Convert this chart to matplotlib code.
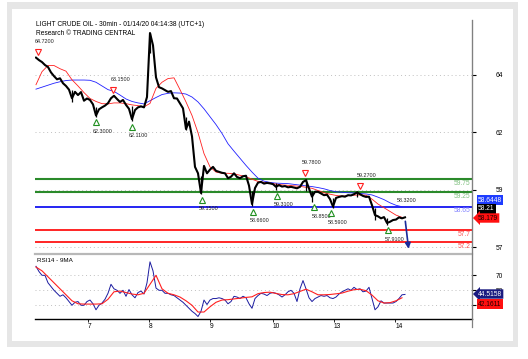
import numpy as np
import matplotlib
matplotlib.use("Agg")
import matplotlib.pyplot as plt
from matplotlib.patches import Rectangle
from matplotlib.lines import Line2D
from matplotlib.transforms import blended_transform_factory, offset_copy

plt.rcParams['font.family'] = ['Liberation Sans', 'DejaVu Sans']

# ---- data (one point ~ every 3 bars) ----
price = [64.70, 64.60, 64.52, 64.40, 64.32, 64.10, 63.95, 63.82, 63.86, 63.66,
         63.55, 63.40, 63.05, 63.31, 63.18, 63.30, 62.95, 63.04, 62.98, 62.80,
         62.35, 62.60, 62.68, 62.75, 62.85, 63.05, 63.15, 63.02, 62.90, 62.98,
         62.78, 62.62, 62.20, 62.57, 62.68, 62.72, 62.68, 63.10, 65.70, 65.20,
         63.90, 63.50, 63.45, 63.38, 63.31, 63.34, 63.05, 63.04, 62.84, 62.64,
         61.80, 62.10, 61.50, 60.26, 60.00, 59.20, 60.30, 60.00, 60.15, 60.26,
         60.10, 60.06, 60.02, 60.00, 59.80, 59.86, 60.00, 59.85, 59.80, 59.88,
         59.90, 59.50, 58.75, 59.40, 59.62, 59.65, 59.58, 59.61, 59.59, 59.56,
         59.45, 59.52, 59.46, 59.48, 59.43, 59.45, 59.42, 59.39, 59.45, 59.65,
         59.72, 59.38, 59.05, 59.25, 59.25, 59.18, 59.11, 59.13, 58.95, 58.65,
         59.00, 59.04, 59.07, 59.05, 59.11, 59.10, 59.15, 59.22, 59.15, 59.08,
         59.04, 59.05, 58.70, 58.30, 58.25, 58.17, 58.22, 57.98, 58.03, 58.10,
         58.12, 58.21, 58.17, 58.21]

# bar wicks (index, low, high) for the visible spikes
wick_idx = [12, 20, 32, 38, 50, 55, 72, 80, 90, 92, 99, 107, 113, 117]
wick_low = [62.90, 62.30, 62.11, 64.90, 61.76, 59.15, 58.66, 59.31, 59.30, 58.85, 58.59, 59.05, 58.10, 57.91]
wick_high = [63.40, 62.70, 62.75, 65.72, 62.30, 59.90, 59.30, 59.60, 59.78, 59.30, 59.00, 59.27, 58.60, 58.20]

# moving averages, one point every 2 price points
ma_red = [63.60, 64.13, 64.38, 64.38, 64.25, 64.15, 63.80, 63.55, 63.28, 63.04,
          62.92, 62.83, 62.82, 62.86, 62.86, 62.83, 62.78, 62.75, 62.70, 62.84,
          63.45, 63.70, 63.85, 63.88, 63.40, 62.90, 62.35, 61.65, 60.80, 60.26,
          60.05, 60.00, 60.00, 59.98, 59.92, 59.86, 59.76, 59.67, 59.63, 59.60,
          59.56, 59.53, 59.51, 59.49, 59.47, 59.43, 59.39, 59.30, 59.21, 59.15,
          59.10, 59.07, 59.09, 59.11, 59.12, 59.11, 58.95, 58.75, 58.60, 58.45,
          58.30, 58.21]
ma_blue = [63.42, 63.50, 63.58, 63.66, 63.72, 63.77, 63.79, 63.79, 63.79, 63.78,
           63.70, 63.55, 63.40, 63.33, 63.18, 63.02, 62.92, 62.86, 62.82, 62.95,
           63.08, 63.20, 63.25, 63.27, 63.26, 63.22, 63.10, 62.90, 62.62, 62.30,
           61.98, 61.62, 61.20, 60.90, 60.61, 60.32, 60.05, 59.80, 59.68, 59.63,
           59.60, 59.59, 59.58, 59.55, 59.52, 59.49, 59.46, 59.42, 59.37, 59.30,
           59.25, 59.23, 59.21, 59.20, 59.18, 59.16, 59.12, 59.03, 58.93, 58.80,
           58.70, 58.64]

rsi = [82, 75, 70, 70, 60, 55, 50, 46, 42, 44, 40, 35, 30, 34, 35, 30, 30, 35, 37, 32,
       24, 30, 33, 38, 46, 58, 52, 50, 46, 50, 42, 51, 44, 40, 47, 49, 45, 60, 88, 76,
       53, 50, 50, 46, 46, 44, 43, 40, 37, 34, 30, 26, 22, 19, 15, 22, 37, 31, 37, 39,
       39, 40, 39, 37, 32, 35, 42, 41, 39, 42, 40, 32, 26, 39, 43, 46, 45, 43, 46, 47,
       46, 44, 41, 44, 48, 50, 46, 35, 52, 63, 52, 40, 35, 39, 41, 43, 42, 43, 40, 39,
       41, 45, 48, 50, 52, 50, 54, 51, 52, 48, 49, 54, 39, 24, 28, 36, 33, 33, 33, 33,
       35, 39, 44, 44.5]
rsi_ma = [81, 76, 68, 60, 52, 44, 36, 32, 31.6, 31.6, 31.6, 32, 38, 48, 49, 47, 45, 44,
          46, 58, 70, 52, 46, 44, 41, 36, 30, 21, 21, 28, 34, 37, 37.5, 38.5, 39.5, 40.5,
          41.3, 45.5, 47, 47.5, 45.8, 44.3, 44, 45.5, 48.5, 51.5, 48, 44, 44, 44.4, 45.3,
          46.3, 48.8, 50.8, 51.4, 49.5, 43.6, 36, 33, 33.5, 36, 40]

day_labels = ['7', '8', '9', '10', '13', '14']
day_pos = [17.2, 37.7, 58.0, 79.0, 99.2, 119.7]

levels = [59.75, 59.25, 58.65, 57.7, 57.2]
level_labels = ['59.75', '59.25', '58.65', '57.7', '57.2']
level_colors = ['#2a8a2a', '#2a8a2a', '#0000f0', '#ff0000', '#ff0000']
level_text_colors = ['#80c080', '#80c080', '#8080ff', '#ff5050', '#ff5050']

hi_idx = [0.6, 25.8, 89.6, 108.0]
hi_val = [64.72, 63.15, 59.78, 59.27]
lo_idx = [20.0, 31.9, 55.2, 72.2, 80.2, 92.8, 98.3, 117.4]
lo_val = [62.30, 62.11, 59.15, 58.66, 59.31, 58.85, 58.59, 57.91]

price_ticks = np.linspace(57, 64, 4)
price_tick_labels = ['57', '59', '62', '64']
rsi_ticks = [30, 50, 70]

W, H = 528, 359
fig = plt.figure(figsize=(W / 100, H / 100), dpi=100)
fig.patch.set_facecolor('white')


def fx(p):
    return p / W


def fy(p):
    return 1 - p / H


# grey frame (drawn below the axes)
fig.patches.append(Rectangle((fx(7), fy(347)), fx(511), (347 - 2) / H, transform=fig.transFigure,
                             fc='#e6e6e6', ec='none', zorder=-5))
fig.patches.append(Rectangle((fx(12), fy(341)), fx(501), (341 - 9) / H, transform=fig.transFigure,
                             fc='white', ec='none', zorder=-4))

L, R = fx(35), fx(472)
ax = fig.add_axes([L, fy(254), R - L, (254 - 20) / H])
ax2 = fig.add_axes([L, fy(319.3), R - L, (319.3 - 255) / H])
for a in (ax, ax2):
    a.set_facecolor('none')
    a.set_xlim(-0.33, 145.33)
    for s in ('top', 'left'):
        a.spines[s].set_visible(False)
    a.spines['right'].set_color('#808080')
    a.yaxis.tick_right()
    a.tick_params(axis='y', length=3, width=0.8, pad=14, labelsize=4.8, colors='black')

ax.set_ylim(56.72, 66.23)
ax.spines['bottom'].set_color('#b8b8b8')
ax.spines['bottom'].set_linewidth(1.6)
ax.set_xticks([])
ax.set_yticks(price_ticks)
ax.set_yticklabels(price_tick_labels)
for t in price_ticks:
    ax.axhline(t, color='#c0c0c0', lw=0.7, ls=(0, (1, 3)), zorder=1)

x = np.arange(len(price))
xm = np.arange(len(ma_red)) * 2

for lv, c in zip(levels, level_colors):
    ax.axhline(lv, color=c, lw=1.5 if c == '#2a8a2a' else 1.2, zorder=2)

ax.plot(xm, ma_blue, color='#2020ff', lw=0.6, zorder=3)
ax.plot(xm, ma_red, color='#ff2020', lw=0.6, zorder=3)
ax.vlines(wick_idx, wick_low, wick_high, color='black', lw=0.9, zorder=4)
ax.plot(x, price, color='black', lw=1.5, zorder=4)

# forecast arrow
ax.annotate('', xy=(x[-1] + 1.3, 56.82), xytext=(x[-1], price[-1] - 0.05),
            arrowprops=dict(arrowstyle='-|>', color='#1a2a9a', lw=1.2, mutation_scale=8), zorder=5)

# level labels at right edge
tr = blended_transform_factory(ax.transAxes, ax.transData)
for lv, lab, c in zip(levels, level_labels, level_text_colors):
    ax.annotate(lab, xy=(1, lv), xycoords=tr, xytext=(-1, -3.2), textcoords='offset points',
                ha='right', va='center', fontsize=4.8, color=c)

# pivot markers
for i, v in zip(hi_idx, hi_val):
    ax.plot(i, v, marker='v', ms=5, mfc='white', mec='#ff2020', mew=0.8,
            transform=offset_copy(ax.transData, fig=fig, y=5.5, units='dots'), zorder=6)
    ax.annotate(f'{v:.4f}', xy=(i, v), xytext=(-2.2, 11.5), textcoords='offset points',
                ha='left', va='center', fontsize=3.9, color='#222222')
for i, v in zip(lo_idx, lo_val):
    ax.plot(i, v, marker='^', ms=5, mfc='white', mec='#209020', mew=0.8,
            transform=offset_copy(ax.transData, fig=fig, y=-5.5, units='dots'), zorder=6)
    ax.annotate(f'{v:.4f}', xy=(i, v), xytext=(-2.2, -10.5), textcoords='offset points',
                ha='left', va='center', fontsize=3.9, color='#222222')
ax.annotate('58.3200', xy=(120.2, 58.32), xytext=(0, 10.5), textcoords='offset points',
            ha='left', va='center', fontsize=3.9, color='#222222')

# RSI panel
ax2.set_ylim(11.3, 97.1)
ax2.spines['bottom'].set_color('black')
ax2.spines['bottom'].set_linewidth(1.0)
ax2.set_yticks(rsi_ticks)
ax2.set_yticklabels(['30', '50', '70'])
for t in rsi_ticks:
    ax2.axhline(t, color='#c0c0c0', lw=0.7, ls=(0, (1, 3)), zorder=1)
ax2.plot(np.arange(len(rsi)), rsi, color='#1c1ca0', lw=0.7, zorder=3)
ax2.plot(np.arange(len(rsi_ma)) * 2, rsi_ma, color='#ff2020', lw=0.8, zorder=4)
ax2.set_xticks(day_pos)
ax2.set_xticklabels(day_labels)
ax2.tick_params(axis='x', length=2.5, width=0.6, pad=0.5, labelsize=4.8, colors='black')
for lab in ax2.get_xticklabels():
    lab.set_ha('left')
ax2.text(0.004, 0.92, 'RSI14 - 9MA', transform=ax2.transAxes, fontsize=4.5, va='center')

# right axis line running past the RSI axis
fig.add_artist(Line2D([R, R], [fy(20), fy(327)], color='#808080', lw=0.9))

# titles
fig.text(fx(36), fy(25), 'LIGHT CRUDE OIL - 30min - 01/14/20 04:14:38 (UTC+1)', fontsize=4.8,
         va='center', ha='left')
fig.text(fx(36), fy(33.3), 'Research \u00a9 TRADING CENTRAL', fontsize=4.8, va='center', ha='left')

# value tags on the right
def tag(ypx, s, fc, tc, style='square,pad=0.18'):
    fig.text(fx(478), fy(ypx), s, fontsize=4.8, color=tc, va='center', ha='left',
             bbox=dict(boxstyle=style, fc=fc, ec='none'))


tag(200, '58.6448', '#1e3cff', 'white')
tag(209, '58.21', 'black', 'white')
tag(218, '58.179', '#ff1010', '#200000', 'larrow,pad=0.18')
tag(294, '44.5158', '#1a1a80', 'white', 'larrow,pad=0.18')
tag(304, '42.1611', '#ff1010', '#200000')

fig.savefig('out.png', dpi=100)
